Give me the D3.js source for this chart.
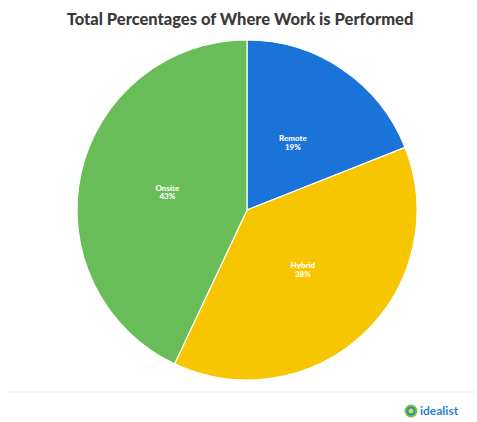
<!DOCTYPE html>
<html>
<head>
<meta charset="utf-8">
<script src="https://cdn.jsdelivr.net/npm/d3@7"></script>
<style>
  html, body { margin: 0; padding: 0; background: #fff; }
  svg { display: block; }
</style>
</head>
<body>
<svg id="chart" width="477" height="422"></svg>
<script>
// Where work is performed, share of total (%)
const categories = ["Remote", "Hybrid", "Onsite"];
const values = [19, 38, 43];
const colors = ["#1a73d8", "#f7c600", "#69bd58"];

const svg = d3.select("#chart");
const cx = 247, cy = 210, radius = 170;

svg.append("text")
  .attr("x", 240).attr("y", 25)
  .attr("text-anchor", "middle")
  .attr("font-family", "Lato, 'Open Sans', sans-serif")
  .attr("font-weight", 900)
  .attr("font-size", 16.5)
  .attr("fill", "#3a3a3a")
  .text("Total Percentages of Where Work is Performed");

const data = categories.map((c, i) => ({ name: c, value: values[i], color: colors[i] }));

const pie = d3.pie().value(d => d.value).sort(null);
const arc = d3.arc().innerRadius(0).outerRadius(radius);
const labelArc = d3.arc().innerRadius(radius * 0.48).outerRadius(radius * 0.48);

const g = svg.append("g").attr("transform", `translate(${cx},${cy})`);
const arcs = pie(data);

g.selectAll("path.slice")
  .data(arcs)
  .join("path")
  .attr("class", "slice")
  .attr("d", arc)
  .attr("fill", d => d.data.color)
  .attr("stroke", "#fff")
  .attr("stroke-width", 1.2);

const labels = g.selectAll("text.lbl")
  .data(arcs)
  .join("text")
  .attr("class", "lbl")
  .attr("transform", d => `translate(${labelArc.centroid(d)})`)
  .attr("text-anchor", "middle")
  .attr("font-family", "Lato, 'Open Sans', sans-serif")
  .attr("font-weight", 900)
  .attr("font-size", 8)
  .attr("fill", "#fff");
labels.append("tspan").attr("x", 0).attr("dy", "-0.2em").text(d => d.data.name);
labels.append("tspan").attr("x", 0).attr("dy", "1.1em").text(d => d.data.value + "%");

// footer divider
svg.append("line")
  .attr("x1", 10).attr("x2", 475)
  .attr("y1", 392).attr("y2", 392)
  .attr("stroke", "#f0f0f0").attr("stroke-width", 1.5);

// idealist mark
const logo = svg.append("g").attr("transform", "translate(411,411)");
logo.append("circle").attr("r", 6.5).attr("fill", "#7cc242");
logo.append("circle").attr("r", 4.5).attr("fill", "#1f8fc9");
logo.append("circle").attr("r", 2.5).attr("fill", "#f4d21f");
svg.append("text")
  .attr("x", 420).attr("y", 415)
  .attr("font-family", "Lato, 'Open Sans', sans-serif")
  .attr("font-weight", 700)
  .attr("font-size", 12)
  .attr("fill", "#2a7fd0")
  .text("idealist");
</script>
</body>
</html>
